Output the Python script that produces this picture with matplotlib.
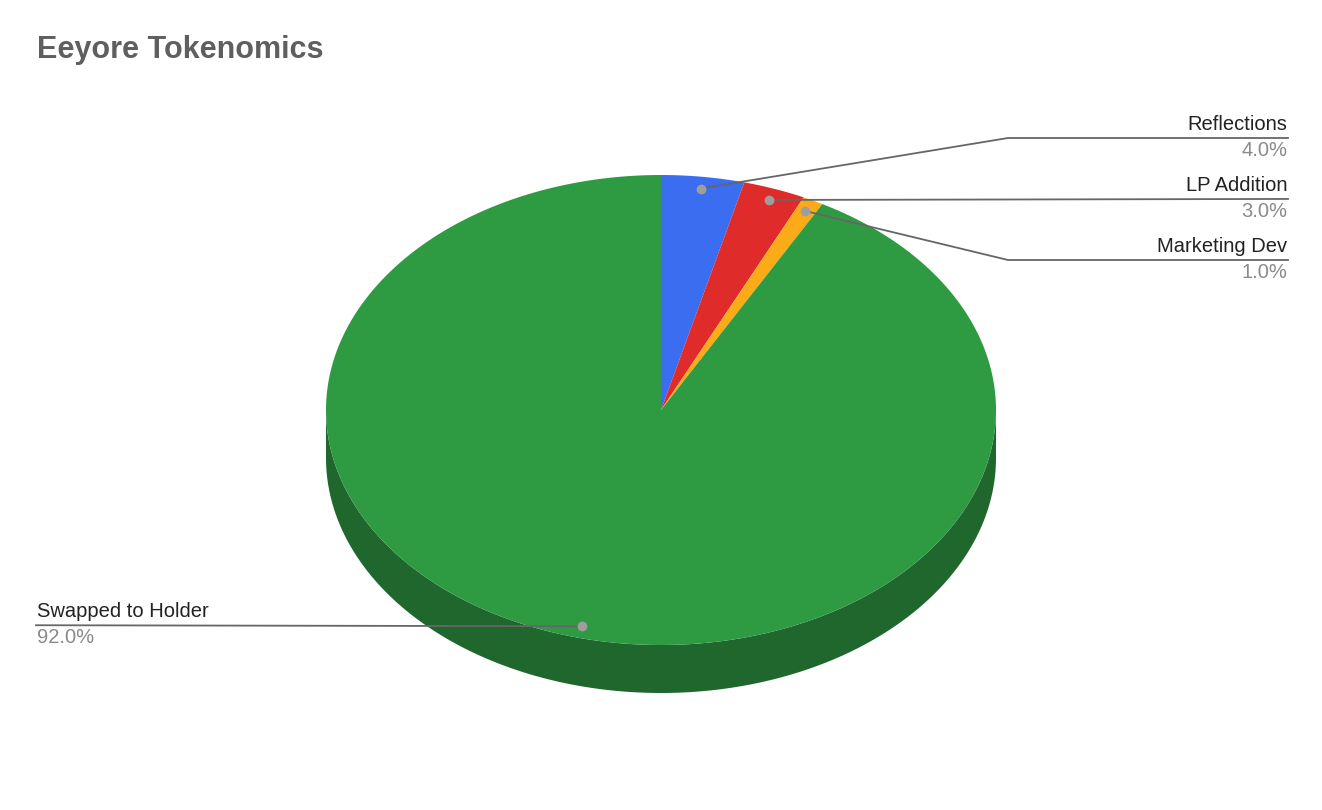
import numpy as np
import matplotlib
matplotlib.use("Agg")
import matplotlib.pyplot as plt
from matplotlib.patches import Polygon

labels = ["Reflections", "LP Addition", "Marketing Dev", "Swapped to Holder"]
values = [4.0, 3.0, 1.0, 92.0]
colors = ["#3a6df0", "#e02b2b", "#fbab17", "#2e9a42"]
dark = ["#23449a", "#8f1b1b", "#a06d0e", "#1f672d"]

# pie geometry in pixel coordinates (y down)
cx, cy, rx, ry, depth = 661, 410, 335, 235, 48


def pt(t, r=1.0, dy=0.0):
    t = np.radians(t)
    return cx + rx * r * np.sin(t), cy - ry * r * np.cos(t) + dy


fig = plt.figure(figsize=(13.22, 8.1), dpi=100)
ax = fig.add_axes([0, 0, 1, 1])
ax.set_xlim(0, 1322)
ax.set_ylim(810, 0)
ax.axis("off")

fracs = np.array(values) / sum(values)
bounds = np.concatenate([[0], np.cumsum(fracs) * 360])

# side band (front half only)
for i in range(len(values)):
    a, b = max(bounds[i], 90), min(bounds[i + 1], 270)
    if b <= a:
        continue
    ts = np.linspace(a, b, 200)
    top = [pt(t) for t in ts]
    bot = [pt(t, dy=depth) for t in ts[::-1]]
    ax.add_patch(Polygon(top + bot, closed=True, fc=dark[i], ec="none"))

# top face
for i in range(len(values)):
    ts = np.linspace(bounds[i], bounds[i + 1], 300)
    verts = [(cx, cy)] + [pt(t) for t in ts]
    ax.add_patch(Polygon(verts, closed=True, fc=colors[i], ec="none"))

# labels with leader lines
layout = {
    0: dict(elbow=(1008, 138), end=1288, ha="right"),
    1: dict(elbow=None, end=1288, ha="right"),
    2: dict(elbow=(1008, 260), end=1288, ha="right"),
    3: dict(elbow=None, end=36, ha="left"),
}
lc = "#666666"
for i, lab in enumerate(labels):
    mid = (bounds[i] + bounds[i + 1]) / 2
    dx, dyp = pt(mid, 0.95)
    L = layout[i]
    if L["elbow"] is None:
        ly = dyp - 1
        xs, ys = [dx, L["end"]], [dyp, ly]
    else:
        ly = L["elbow"][1]
        xs, ys = [dx, L["elbow"][0], L["end"]], [dyp, ly, ly]
    ax.plot(xs, ys, color=lc, lw=1.3, zorder=3)
    ax.plot(dx, dyp, "o", color="#9e9e9e", ms=6, zorder=4)
    tx = L["end"] - 1 if L["ha"] == "right" else L["end"] + 1
    ax.text(tx, ly - 4, lab, ha=L["ha"], va="bottom", fontsize=14.5,
            color="#222222", family="Arial" if False else "Liberation Sans")
    ax.text(tx, ly + 3, f"{values[i]:.1f}%", ha=L["ha"], va="top",
            fontsize=14.5, color="#8a8a8a", family="Liberation Sans")

ax.text(37, 50, "Eeyore Tokenomics", ha="left", va="center", fontsize=22,
        fontweight="bold", color="#5f5f5f", family="Liberation Sans")

fig.savefig("out.png", dpi=100)
